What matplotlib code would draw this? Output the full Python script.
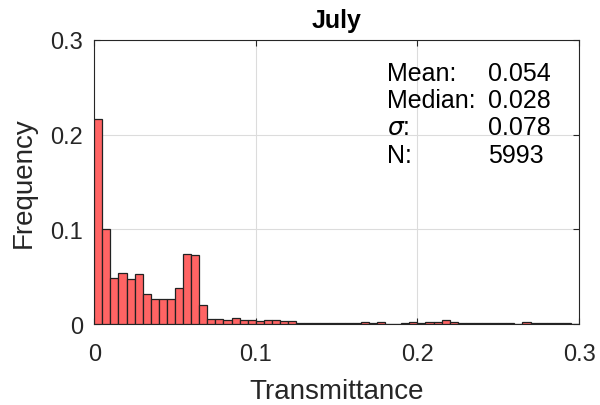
import numpy as np
import matplotlib
matplotlib.use("Agg")
import matplotlib.pyplot as plt

plt.rcParams["font.family"] = ["Liberation Sans", "DejaVu Sans"]

# histogram of transmittance, 60 bins of width 0.005
bin_width = 0.005
bin_edges = np.arange(0, 0.3, bin_width)
frequency = [
    0.216, 0.100, 0.049, 0.054, 0.047, 0.053, 0.032, 0.026, 0.026, 0.026,
    0.038, 0.074, 0.073, 0.020, 0.005, 0.005, 0.004, 0.006, 0.0045, 0.0045,
    0.003, 0.004, 0.004, 0.003, 0.003, 0.001, 0.001, 0.001, 0.001, 0.001,
    0.001, 0.001, 0.001, 0.002, 0.001, 0.002, 0.0, 0.0, 0.001, 0.002,
    0.001, 0.002, 0.002, 0.004, 0.002, 0.001, 0.001, 0.001, 0.001, 0.001,
    0.001, 0.001, 0.0, 0.002, 0.001, 0.001, 0.001, 0.001, 0.001, 0.0,
]

stat_labels = ["Mean:", "Median:", r"$\sigma$:", "N:"]
stat_values = ["0.054", "0.028", "0.078", "5993"]

x_ticks = [0, 0.1, 0.2, 0.3]
y_ticks = [0, 0.1, 0.2, 0.3]

fig = plt.figure(figsize=(6, 4.06), dpi=100)
ax = fig.add_axes([0.157, 0.1995, 0.808, 0.70])

ax.bar(bin_edges, frequency, width=bin_width, align="edge",
       color="#ff6464", edgecolor="#222222", linewidth=0.9, zorder=3)

ax.set_xlim(0, 0.3)
ax.set_ylim(0, 0.3)
ax.set_xticks(x_ticks)
ax.set_yticks(y_ticks)
ax.set_xticklabels(["0", "0.1", "0.2", "0.3"])
ax.set_yticklabels(["0", "0.1", "0.2", "0.3"])
ax.grid(True, color="#dcdcdc", linewidth=0.8, zorder=0)
ax.tick_params(direction="in", top=True, right=True, labelsize=17,
               length=4, width=0.8, colors="#262626")
ax.tick_params(axis="x", pad=14)
ax.tick_params(axis="y", pad=8)
for sp in ax.spines.values():
    sp.set_color("#262626")
    sp.set_linewidth(0.8)

ax.text(0.5, 1.045, "July", transform=ax.transAxes, fontsize=18,
        fontweight="bold", ha="center", va="baseline")
ax.set_xlabel("Transmittance", fontsize=20, color="#262626", labelpad=9)
ax.set_ylabel("Frequency", fontsize=20, color="#262626", labelpad=10)

# summary statistics block
y0 = 0.2579
for i, (lab, val) in enumerate(zip(stat_labels, stat_values)):
    y = y0 - i * 0.0288
    ax.text(0.1814, y, lab, fontsize=18, va="baseline", ha="left", zorder=4)
    ax.text(0.2435, y, val, fontsize=18, va="baseline", ha="left", zorder=4)

fig.savefig("out.png", dpi=100)
